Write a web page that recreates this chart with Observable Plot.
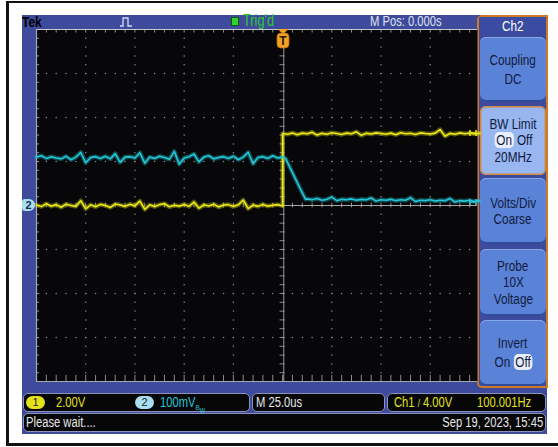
<!DOCTYPE html>
<html><head><meta charset="utf-8">
<script src="https://cdn.jsdelivr.net/npm/d3@7"></script>
<script src="https://cdn.jsdelivr.net/npm/@observablehq/plot@0.6"></script>
<style>
body{margin:0;background:#fff;}
#root{position:relative;width:558px;height:447px;overflow:hidden;font-family:"Liberation Sans",Arial,sans-serif;}
.a{position:absolute;white-space:nowrap;}
.n{transform:scaleX(0.8);transform-origin:0 50%;}
.nr{transform:scaleX(0.8);transform-origin:100% 50%;}
.btn{position:absolute;left:480px;width:66px;border-radius:6px;background:#5a83d8;box-shadow:inset 0 -2px 0 #2f4a99, inset 0 1px 0 #86a6ea;color:#111a3e;font-size:14px;line-height:16.5px;display:flex;flex-direction:column;justify-content:center;align-items:center;text-align:center;}
.btn > div{transform:scaleX(0.84);white-space:nowrap;}
.pill{background:#e8eefc;border-radius:5px;padding:0 2px;}
.box{position:absolute;background:#070708;border:1.5px solid #8d93b8;border-radius:5px;box-sizing:border-box;}
.t13{font-size:14px;}
#plot{position:absolute;left:0;top:0;z-index:1;}
.ov{z-index:2;}
</style></head><body>
<div id="root">
  <div class="a" style="left:6px;top:1px;width:552px;height:2px;background:#111;"></div>
  <div class="a" style="left:6px;top:1px;width:3px;height:445px;background:#111;"></div>
  <div class="a" style="left:6px;top:443px;width:552px;height:3px;background:#111;"></div>
  <div class="a" style="left:22px;top:15px;width:525px;height:419px;background:#3e4a9b;"></div>

  <div class="a n" style="left:22px;top:13px;font-size:15px;font-weight:bold;color:#000;">Tek</div>
  <svg class="a" style="left:119px;top:17px;" width="14" height="10"><path d="M1 9 H4 V1 H9 V9 H13" fill="none" stroke="#d8dcf0" stroke-width="1.3"/></svg>
  <div class="a" style="left:231px;top:17px;width:6px;height:7px;background:#2fd42f;border:1px solid #0a5a0a;"></div>
  <div class="a n" style="left:243px;top:12px;font-size:16px;color:#2ccc2c;">Trig'd</div>
  <div class="a n t13" style="left:370px;top:13px;color:#dde0ee;">M Pos: 0.000s</div>

  <div id="plot"></div>

  <!-- ground marker ch2 -->
  <div class="a ov" style="left:22px;top:199px;width:13px;height:12px;background:#a9dff0;border-radius:3px 6px 6px 3px;font-size:11px;font-weight:bold;color:#1a2a4a;text-align:center;line-height:12px;">2</div>
  <!-- trigger position marker -->
  <svg class="a ov" style="left:275px;top:28px;" width="16" height="22">
    <path d="M2.5 1 H13.5 L8 6 Z" fill="#f2a224"/>
    <rect x="2" y="5" width="12" height="15" rx="4" fill="#f2a224" stroke="#b86a10" stroke-width="0.8"/>
    <text x="8" y="17" text-anchor="middle" font-size="12" font-weight="bold" fill="#2a1a00" font-family="Liberation Sans, Arial">T</text>
  </svg>
  <!-- right edge markers -->
  <svg class="a ov" style="left:469px;top:129px;" width="8" height="8"><path d="M1 1 V7 M1 4 H7 M7 1 V7" stroke="#e8e41c" stroke-width="1.6" fill="none"/></svg>
  <svg class="a ov" style="left:469px;top:198px;" width="8" height="8"><path d="M1 1 V7 M1 4 H7 M7 1 V7" stroke="#28c8d6" stroke-width="1.6" fill="none"/></svg>

  <!-- side menu -->
  <div class="a" style="left:477px;top:15px;width:71px;height:373px;border:2px solid #cf7a22;border-radius:5px 0 0 5px;box-sizing:border-box;background:#3e4a9b;"></div>
  <div class="a" style="left:479px;top:17px;width:67px;height:19px;background:#3b4ba2;color:#fff;font-size:14px;text-align:center;line-height:19px;"><span style="display:inline-block;transform:scaleX(0.84);">Ch2</span></div>
  <div class="btn" style="top:37px;height:65px;line-height:19px;"><div>Coupling</div><div>DC</div></div>
  <div class="btn" style="top:106px;height:69px;background:#98b6ef;box-shadow:inset 0 0 0 1.5px #d28a40;"><div>BW Limit</div><div><span class="pill">On</span> Off</div><div>20MHz</div></div>
  <div class="btn" style="top:178px;height:66px;"><div>Volts/Div</div><div>Coarse</div></div>
  <div class="btn" style="top:249px;height:67px;"><div>Probe</div><div>10X</div><div>Voltage</div></div>
  <div class="btn" style="top:320px;height:66px;line-height:19px;"><div>Invert</div><div>On <span class="pill">Off</span></div></div>

  <!-- status bars -->
  <div class="box" style="left:23px;top:393px;width:227px;height:19px;"></div>
  <div class="box" style="left:252px;top:393px;width:133px;height:19px;"></div>
  <div class="box" style="left:387px;top:393px;width:159px;height:19px;"></div>
  <div class="box" style="left:23px;top:413px;width:523px;height:19px;"></div>
  <div class="a" style="left:26px;top:396px;width:19px;height:13px;background:#e4e01c;border-radius:7px;font-size:11px;color:#222;text-align:center;line-height:13px;">1</div>
  <div class="a n t13" style="left:56px;top:394px;color:#e4e01c;">2.00V</div>
  <div class="a" style="left:135px;top:396px;width:19px;height:13px;background:#a9dff0;border-radius:7px;font-size:11px;color:#222;text-align:center;line-height:13px;">2</div>
  <div class="a n t13" style="left:160px;top:394px;color:#26c6d6;">100mV<span style="font-size:8px;vertical-align:-3px;">B<sub style="font-size:7px">W</sub></span></div>
  <div class="a n t13" style="left:256px;top:394px;color:#e6e6e6;">M 25.0us</div>
  <div class="a n t13" style="left:394px;top:394px;color:#e4e01c;">Ch1 <span style="font-size:10px;">/</span> 4.00V</div>
  <div class="a n t13" style="left:477px;top:394px;color:#e4e01c;">100.001Hz</div>
  <div class="a n t13" style="left:26px;top:414px;color:#e6e6e6;">Please wait....</div>
  <div class="a nr t13" style="right:15px;top:414px;color:#e6e6e6;">Sep 19, 2023, 15:45</div>
</div>
<script>
// ---- settings ----
const ch1VoltsPerDiv = 2.0;    // V/div
const ch2MilliVoltsPerDiv = 100; // mV/div
const timePerDiv = 25;         // µs/div

// sample times (µs)
const tPre = d3.range(-125, 0.01, 2.5);   // 51 samples
const tPost = d3.range(0, 100.01, 2.5);   // 41 samples
const tPost2 = d3.range(12.5, 100.01, 2.5); // 36 samples

// Ch1 (yellow), volts
const ch1Pre = [0.02,-0.05,0.08,-0.03,0.04,-0.08,0.06,0.00,-0.04,0.22,
  -0.15,0.03,-0.06,0.05,0.00,-0.09,0.07,0.02,-0.04,0.06,
  -0.02,0.20,-0.18,0.03,-0.05,0.04,0.08,-0.06,0.01,-0.03,
  0.05,-0.04,0.16,-0.12,0.03,-0.02,0.06,-0.07,0.02,0.04,
  -0.05,0.03,0.25,-0.14,0.02,-0.04,0.05,-0.03,0.01,0.04,-0.02];
const ch1Post = [3.27,3.24,3.30,3.22,3.29,3.26,3.33,3.20,3.28,3.24,
  3.31,3.27,3.23,3.29,3.26,3.35,3.19,3.28,3.25,3.30,
  3.27,3.24,3.29,3.22,3.31,3.26,3.28,3.23,3.30,3.27,
  3.25,3.29,3.45,3.15,3.28,3.24,3.30,3.26,3.29,3.25,3.28];

// Ch2 (cyan), millivolts
const ch2Pre = [110,113,107,111,108,106,112,104,110,121,
  97,109,111,107,112,106,118,98,110,111,
  108,120,96,110,107,112,109,105,123,94,
  108,111,117,99,110,113,106,109,111,107,
  112,104,110,121,95,109,111,107,113,108,110];
const ch2RampT = [1.5, 4, 6.5, 9, 11.7];
const ch2Ramp = [107, 84, 61, 38, 14];
const ch2Post = [15,13,16,12,14,19,11,14,13,15,
  12,14,13,17,10,13,12,14,11,13,
  12,18,9,12,11,13,10,12,11,16,
  8,11,10,12,9,11];

// ---- build tables ----
const ch1 = [
  ...tPre.map((t, i) => ({t, v: ch1Pre[i]})),
  ...tPost.map((t, i) => ({t, v: ch1Post[i]}))
].map(d => ({t: d.t, div: d.v / ch1VoltsPerDiv}));
const ch2 = [
  ...tPre.map((t, i) => ({t, v: ch2Pre[i]})),
  ...ch2RampT.map((t, i) => ({t, v: ch2Ramp[i]})),
  ...tPost2.map((t, i) => ({t, v: ch2Post[i]}))
].map(d => ({t: d.t, div: d.v / ch2MilliVoltsPerDiv}));

// graticule
const xMin = -5 * timePerDiv, xMax = 99;
const majorX = [-4, -3, -2, -1, 1, 2, 3].map(k => k * timePerDiv);
const majorY = [-3, -2, -1, 1, 2, 3];
const minorX = d3.range(xMin, xMax, timePerDiv / 5);
const minorY = d3.range(-4, 4.001, 0.2);
const dotsV = majorX.flatMap(x => minorY.map(y => ({x, y})));
const dotsH = majorY.flatMap(y => minorX.map(x => ({x, y})));
const gridCol = "#8c8c8c";
const yellow = "#ecea14", cyan = "#22c8d8";

const plot = Plot.plot({
  width: 558, height: 447,
  marginLeft: 36, marginRight: 81, marginTop: 29, marginBottom: 66,
  x: {domain: [xMin, xMax], axis: null},
  y: {domain: [-4, 4], axis: null},
  style: {background: "transparent"},
  marks: [
    Plot.frame({fill: "#070709", stroke: "none"}),
    Plot.dot(dotsV, {x: "x", y: "y", r: 0.75, fill: gridCol, stroke: "none"}),
    Plot.dot(dotsH, {x: "x", y: "y", r: 0.75, fill: gridCol, stroke: "none"}),
    // edge ticks
    Plot.ruleX(minorX, {x: d => d, y1: 4, y2: 3.92, stroke: gridCol}),
    Plot.ruleX(minorX, {x: d => d, y1: -4, y2: -3.86, stroke: gridCol}),
    Plot.ruleY(minorY, {y: d => d, x1: xMin, x2: xMin + 1.6, stroke: gridCol}),
    // center cross ticks
    Plot.ruleY(minorY, {y: d => d, x1: -1.3, x2: 1.3, stroke: gridCol}),
    Plot.ruleX(minorX, {x: d => d, y1: -0.055, y2: 0.055, stroke: gridCol}),
    // trigger position line & reference
    Plot.ruleX([0.6], {y1: -4, y2: 4, stroke: "#9a9a9a", strokeWidth: 1}),
    Plot.ruleY([0], {x1: 0.6, x2: xMax, stroke: "#a8a8a8", strokeWidth: 1}),
    // border
    Plot.ruleY([4], {x1: xMin, x2: xMax, stroke: "#c8c8d0", strokeWidth: 1.2}),
    Plot.ruleY([-4], {x1: xMin, x2: xMax, stroke: "#a8a8b0", strokeWidth: 1.2}),
    Plot.ruleX([xMin], {y1: -4, y2: 4, stroke: "#a8a8b0", strokeWidth: 1.2}),
    // traces (soft persistence halo + trace)
    Plot.line(ch1, {x: "t", y: "div", stroke: yellow, strokeWidth: 4.5, strokeOpacity: 0.35}),
    Plot.line(ch2, {x: "t", y: "div", stroke: cyan, strokeWidth: 4.5, strokeOpacity: 0.35}),
    Plot.line(ch1, {x: "t", y: "div", stroke: yellow, strokeWidth: 1.6}),
    Plot.line(ch2, {x: "t", y: "div", stroke: cyan, strokeWidth: 1.6})
  ]
});
document.getElementById("plot").append(plot);
</script>
</body></html>
